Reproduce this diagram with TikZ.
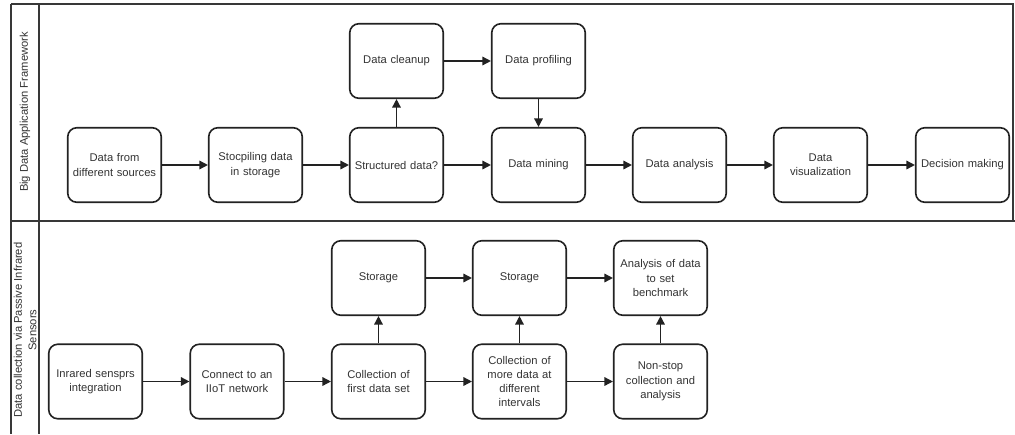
\documentclass[tikz,border=0pt]{standalone}
\usepackage{fontspec}
\setmainfont{Liberation Sans}
\usetikzlibrary{arrows.meta}
\definecolor{ln}{HTML}{222222}
\definecolor{tx}{HTML}{333333}
\tikzset{
  stepbox/.style={draw=ln, line width=1.6pt, rounded corners=9pt, minimum width=93.5pt, minimum height=74.5pt, align=center, text=tx, font=\fontsize{11.2}{14.3}\selectfont, inner sep=2pt, text width=88pt},
  flow/.style={draw=ln, line width=1.5pt, -{Triangle[length=8.5pt,width=8.5pt]}},
  lane/.style={draw=ln!90, line width=1.4pt},
  lanelabel/.style={rotate=90, align=center, text=tx, font=\fontsize{11.2}{14.5}\selectfont}
}
\begin{document}
\begin{tikzpicture}[x=1pt,y=-1pt]
\useasboundingbox (0,0) rectangle (1015,434);
% lanes
\coordinate (tl) at (11,4);
\coordinate (tr) at (1013,4);
\coordinate (mr) at (1013,221);
\coordinate (ml) at (11,221);
\coordinate (me) at (1015,221);
\coordinate (bl) at (11,434);
\coordinate (dt) at (39,4);
\coordinate (db) at (39,434);
\draw[lane] (tl) -- (tr) -- (mr);
\draw[lane] (ml) -- (me);
\draw[lane] (tl) -- (bl);
\draw[lane] (dt) -- (db);
\node[lanelabel] (lab1) at (25,112) {Big Data Application Framework};
\node[lanelabel] (lab2) at (25,330) {Data collection via Passive Infrared\\Sensors};
% top lane
\node[stepbox] (src) at (114.5,165) {Data from\\different sources};
\node[stepbox] (stoc) at (255.5,165) {Stocpiling data\\in storage};
\node[stepbox] (struct) at (396.5,165) {Structured data?};
\node[stepbox] (clean) at (396.5,61) {Data cleanup};
\node[stepbox] (prof) at (538.5,61) {Data profiling};
\node[stepbox] (mine) at (538.5,165) {Data mining};
\node[stepbox] (ana) at (679.5,165) {Data analysis};
\node[stepbox] (vis) at (820.5,165) {Data\\visualization};
\node[stepbox] (dec) at (962.5,165) {Decision making};
\draw[flow] (src) -- (stoc);
\draw[flow] (stoc) -- (struct);
\draw[flow] (struct) -- (mine);
\draw[flow] (struct) -- (clean);
\draw[flow] (clean) -- (prof);
\draw[flow] (prof) -- (mine);
\draw[flow] (mine) -- (ana);
\draw[flow] (ana) -- (vis);
\draw[flow] (vis) -- (dec);
% bottom lane
\node[stepbox] (ir) at (95.5,381.5) {Inrared sensprs\\integration};
\node[stepbox] (conn) at (237,381.5) {Connect to an\\IIoT network};
\node[stepbox] (c1) at (378.5,381.5) {Collection of\\first data set};
\node[stepbox] (s1) at (378.5,278) {Storage};
\node[stepbox] (s2) at (519.5,278) {Storage};
\node[stepbox] (cm) at (519.5,381.5) {Collection of\\more data at\\different\\intervals};
\node[stepbox] (ab) at (660.5,278) {Analysis of data\\to set\\benchmark};
\node[stepbox] (ns) at (660.5,381.5) {Non-stop\\collection and\\analysis};
\draw[flow] (ir) -- (conn);
\draw[flow] (conn) -- (c1);
\draw[flow] (c1) -- (s1);
\draw[flow] (s1) -- (s2);
\draw[flow] (c1) -- (cm);
\draw[flow] (cm) -- (s2);
\draw[flow] (s2) -- (ab);
\draw[flow] (cm) -- (ns);
\draw[flow] (ns) -- (ab);
\end{tikzpicture}
\end{document}
